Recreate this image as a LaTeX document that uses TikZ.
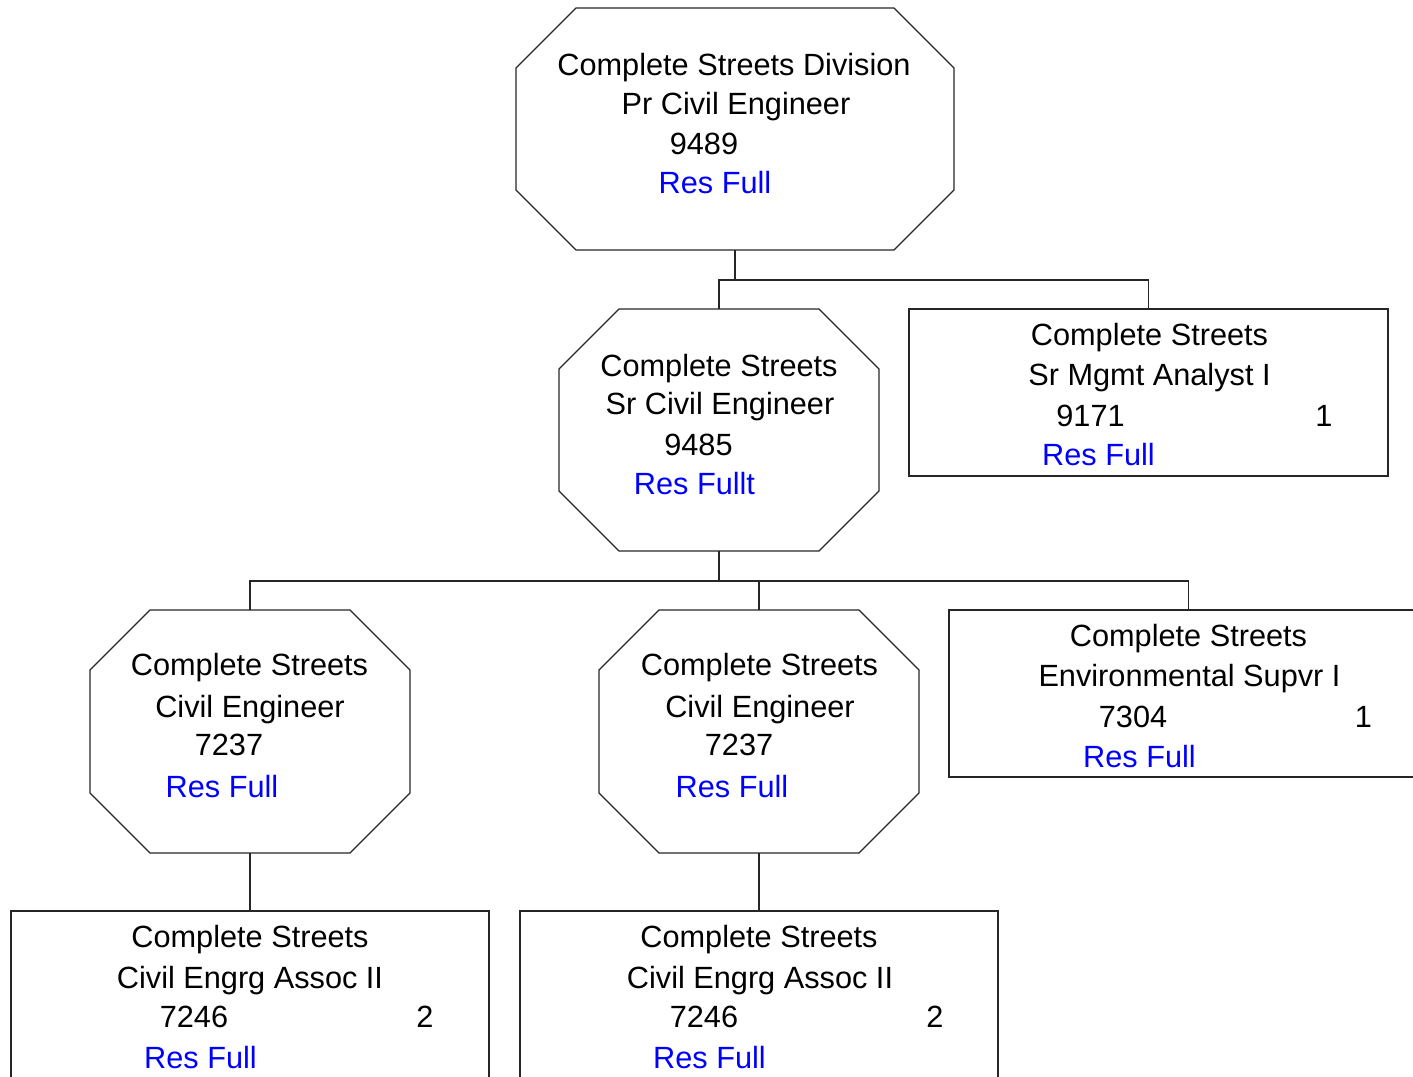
\documentclass[tikz,border=0pt]{standalone}
\usepackage{fontspec}
\setmainfont{Liberation Sans}
\newcommand\drawoct[1]{\draw[octline] ([xshift=60pt]#1.north west) -- ([xshift=-60pt]#1.north east) -- ([yshift=-60pt]#1.north east) -- ([yshift=60pt]#1.south east) -- ([xshift=-60pt]#1.south east) -- ([xshift=60pt]#1.south west) -- ([yshift=60pt]#1.south west) -- ([yshift=-60pt]#1.north west) -- cycle;}
\begin{document}
\begin{tikzpicture}[x=1pt,y=-1pt,
  conn/.style={draw=black!85, line width=1.2pt},
  card/.style={inner sep=0pt, outer sep=0pt},
  boxcard/.style={card, draw=black!85, line width=1.2pt},
  octline/.style={draw=black!85, line width=1.2pt, line join=miter},
  txt/.style={anchor=base, inner sep=0pt, font=\fontsize{30.7}{36}\selectfont},
  blu/.style={txt, text=blue}]
\useasboundingbox (0,0) rectangle (1413,1076);
\clip (0,0) rectangle (1413,1076);

% cards
\node[card, minimum width=438pt, minimum height=242pt] (o1) at (735,129) {};
\node[card, minimum width=320pt, minimum height=242pt] (o2) at (719,430) {};
\node[boxcard, minimum width=479pt, minimum height=167pt] (b1) at (1148.5,392.5) {};
\node[card, minimum width=320pt, minimum height=243pt] (o3) at (250,731.5) {};
\node[card, minimum width=320pt, minimum height=243pt] (o4) at (759,731.5) {};
\node[boxcard, minimum width=479pt, minimum height=167pt] (b2) at (1188.5,693.5) {};
\node[boxcard, minimum width=478pt, minimum height=167pt] (b3) at (250,994.5) {};
\node[boxcard, minimum width=478pt, minimum height=167pt] (b4) at (759,994.5) {};
\drawoct{o1}
\drawoct{o2}
\drawoct{o3}
\drawoct{o4}

% connectors
\coordinate (bus1) at (735,280);
\coordinate (bus2) at (719,581);
\draw[conn] (o1.south) -- (bus1);
\draw[conn] (o2.north) -- (o2.north |- bus1) -- (b1.north |- bus1) -- (b1.north);
\draw[conn] (o2.south) -- (bus2);
\draw[conn] (o3.north) -- (o3.north |- bus2) -- (b2.north |- bus2) -- (b2.north);
\draw[conn] (o4.north) -- (o4.north |- bus2);
\draw[conn] (o3.south) -- (b3.north);
\draw[conn] (o4.south) -- (b4.north);

% texts: top octagon
\node[txt] (t1a) at (734,75) {Complete Streets Division};
\node[txt] (t1b) at (736,114) {Pr Civil Engineer};
\node[txt] (t1c) at (704,154) {9489};
\node[blu] (t1d) at (715,193) {Res Full};
% second octagon
\node[txt] (t2a) at (719,376) {Complete Streets};
\node[txt] (t2b) at (720,414) {Sr Civil Engineer};
\node[txt] (t2c) at (698.5,455) {9485};
\node[blu] (t2d) at (694.5,494) {Res Fullt};
% Sr Mgmt box
\node[txt] (t3a) at (1149.5,345) {Complete Streets};
\node[txt] (t3b) at (1149.5,385) {Sr Mgmt Analyst I};
\node[txt] (t3c) at (1090.5,426) {9171};
\node[txt] (t3n) at (1324,426) {1};
\node[blu] (t3d) at (1098.5,465) {Res Full};
% third octagon
\node[txt] (t4a) at (249.5,675) {Complete Streets};
\node[txt] (t4b) at (250,717) {Civil Engineer};
\node[txt] (t4c) at (229,755) {7237};
\node[blu] (t4d) at (222,797) {Res Full};
% fourth octagon
\node[txt] (t5a) at (759.5,675) {Complete Streets};
\node[txt] (t5b) at (760,717) {Civil Engineer};
\node[txt] (t5c) at (739,755) {7237};
\node[blu] (t5d) at (732,797) {Res Full};
% Environmental box
\node[txt] (t6a) at (1188.5,646) {Complete Streets};
\node[txt] (t6b) at (1189.5,686) {Environmental Supvr I};
\node[txt] (t6c) at (1133,727) {7304};
\node[txt] (t6n) at (1363.5,727) {1};
\node[blu] (t6d) at (1139.5,767) {Res Full};
% bottom box 1
\node[txt] (t7a) at (250,947) {Complete Streets};
\node[txt] (t7b) at (250,988) {Civil Engrg Assoc II};
\node[txt] (t7c) at (194,1027) {7246};
\node[txt] (t7n) at (425,1027) {2};
\node[blu] (t7d) at (200.5,1068) {Res Full};
% bottom box 2
\node[txt] (t8a) at (759,947) {Complete Streets};
\node[txt] (t8b) at (760,988) {Civil Engrg Assoc II};
\node[txt] (t8c) at (704,1027) {7246};
\node[txt] (t8n) at (935,1027) {2};
\node[blu] (t8d) at (709.5,1068) {Res Full};
\end{tikzpicture}
\end{document}
